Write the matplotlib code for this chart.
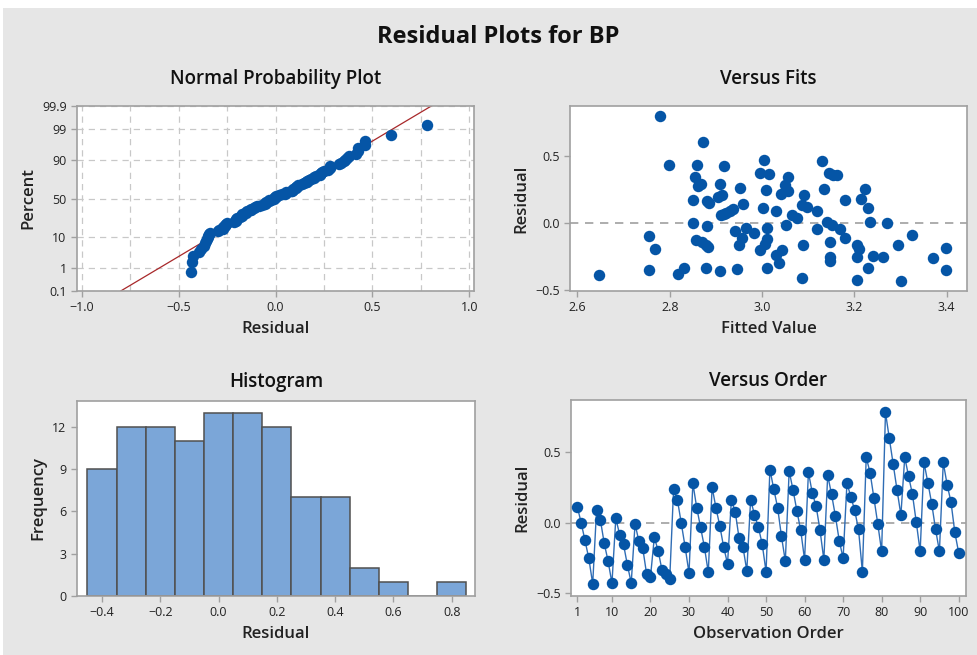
import numpy as np
import matplotlib.pyplot as plt
from matplotlib.patches import Rectangle
from statistics import NormalDist

# Residuals in observation order
resid = [0.114, 0.000, -0.126, -0.254, -0.434, 0.088, 0.019, -0.147, -0.273, -0.429,
         0.031, -0.085, -0.154, -0.299, -0.427, -0.009, -0.133, -0.182, -0.365, -0.384,
         -0.104, -0.199, -0.339, -0.367, -0.396, 0.237, 0.161, -0.005, -0.173, -0.358,
         0.280, 0.107, -0.033, -0.173, -0.352, 0.252, 0.104, -0.024, -0.173, -0.291,
         0.160, 0.078, -0.111, -0.171, -0.341, 0.164, 0.055, -0.031, -0.152, -0.348,
         0.377, 0.239, 0.107, -0.097, -0.273, 0.367, 0.232, 0.085, -0.055, -0.263,
         0.358, 0.211, 0.116, -0.052, -0.263, 0.336, 0.201, 0.047, -0.128, -0.251,
         0.280, 0.185, 0.088, -0.048, -0.348, 0.464, 0.355, 0.175, -0.009, -0.204,
         0.782, 0.597, 0.415, 0.232, 0.055, 0.464, 0.329, 0.201, 0.002, -0.204,
         0.427, 0.284, 0.135, -0.047, -0.204, 0.427, 0.270, 0.147, -0.069, -0.213]

# Fitted values vs residual
fits = [2.647, 2.778, 2.799, 2.755, 2.769, 2.755, 2.817, 2.832, 2.873, 2.860,
        2.854, 2.862, 2.867, 2.851, 2.851, 2.857, 2.870, 2.879, 2.884, 2.879,
        2.881, 2.880, 2.885, 2.908, 2.905, 2.914, 2.917, 2.910, 2.912, 2.917,
        2.923, 2.931, 2.938, 2.952, 2.958, 2.941, 2.957, 2.950, 2.946, 2.966,
        2.983, 2.996, 3.005, 3.015, 3.008, 3.002, 3.010, 3.011, 3.007, 2.996,
        3.010, 3.030, 3.037, 3.044, 3.030, 3.040, 3.050, 3.056, 3.056, 3.052,
        3.065, 3.075, 3.090, 3.087, 3.097, 3.118, 3.088, 3.087, 3.118, 3.129,
        3.135, 3.146, 3.154, 3.163, 3.140, 3.151, 3.147, 3.147, 3.147, 3.169,
        3.180, 3.180, 3.205, 3.210, 3.205, 3.206, 3.222, 3.214, 3.230, 3.233,
        3.230, 3.241, 3.261, 3.270, 3.295, 3.301, 3.324, 3.371, 3.399, 3.399]
fits_resid = [-0.391, 0.795, 0.433, -0.099, -0.191, -0.351, -0.384, -0.332, 0.606, 0.433,
              0.339, 0.272, 0.292, 0.171, 0.000, -0.129, -0.144, -0.161, -0.176, -0.334,
              -0.020, 0.166, 0.146, 0.287, 0.191, 0.210, 0.423, -0.361, 0.057, 0.067,
              0.077, 0.092, 0.101, 0.262, 0.139, -0.059, -0.109, -0.163, -0.342, -0.035,
              -0.077, 0.369, 0.470, 0.364, 0.245, 0.109, -0.040, -0.119, -0.156, -0.205,
              -0.332, -0.238, -0.295, -0.200, 0.092, 0.215, 0.285, 0.339, 0.240, -0.012,
              0.062, 0.035, 0.208, 0.134, 0.121, 0.092, -0.163, -0.411, -0.042, 0.463,
              0.250, 0.369, 0.359, 0.354, 0.007, -0.017, -0.144, -0.257, -0.282, -0.042,
              0.168, -0.109, -0.168, -0.196, -0.252, -0.423, 0.250, 0.178, 0.109, 0.007,
              -0.332, -0.250, -0.252, 0.000, -0.161, -0.433, -0.087, -0.260, -0.188, -0.351]

pct_ticks = [0.1, 1, 10, 50, 90, 99, 99.9]
hist_bins = np.round(np.arange(-0.45, 0.86, 0.1), 2)

BLUE = '#0555A6'
GRID = '#C8C8C8'
SPINE = '#A0A0A0'
MS = 68
plt.rcParams['font.family'] = ['Open Sans', 'DejaVu Sans']
plt.rcParams['font.size'] = 9

fig = plt.figure(figsize=(9.77, 6.55), dpi=100)
fig.patch.set_facecolor('white')
fig.patches.append(Rectangle((3 / 977, 0), 1, 1 - 8 / 655, transform=fig.transFigure,
                             facecolor='#E6E6E6', edgecolor='none', zorder=-10))
fig.text(0.51, 0.944, 'Residual Plots for BP', ha='center', va='center',
         fontsize=17, fontweight='bold', color='#111111')

W, H = 977, 655


def make_axes(l, t, r, b):
    return fig.add_axes([l / W, 1 - b / H, (r - l) / W, (b - t) / H])


def style(ax, title, xlabel, ylabel, pad):
    for s in ax.spines.values():
        s.set_color(SPINE)
        s.set_linewidth(1.2)
    ax.tick_params(colors=SPINE, labelcolor='#222222', length=4, width=1, labelsize=9)
    ax.set_title(title, fontsize=13.5, fontweight='semibold', pad=pad, color='#111111')
    ax.set_xlabel(xlabel, fontsize=12, fontweight='semibold', color='#222222', labelpad=5)
    ax.set_ylabel(ylabel, fontsize=12, fontweight='semibold', color='#222222', labelpad=4)


nd = NormalDist()
r = np.array(resid)

# Normal probability plot
ax1 = make_axes(77, 106, 474, 291)
rs = np.sort(r)
n = len(rs)
p = (np.arange(1, n + 1) - 0.3) / (n + 0.4)
z = np.array([nd.inv_cdf(q) for q in p])
zlo, zhi = nd.inv_cdf(0.001), nd.inv_cdf(0.999)
mu, sd = r.mean(), r.std(ddof=1)
zl = np.array([zlo, zhi])
ax1.plot(mu + sd * zl, zl, color='#A8282A', lw=0.9, zorder=2)
ax1.scatter(rs, z, s=MS, color=BLUE, zorder=3, linewidths=0)
ax1.set_xlim(-1.025, 1.025)
ax1.set_ylim(zlo, zhi)
ax1.set_xticks([-1.0, -0.5, 0.0, 0.5, 1.0])
ax1.set_xticks(np.arange(-1.0, 1.01, 0.25), minor=True)
ax1.set_yticks([nd.inv_cdf(v / 100) for v in pct_ticks])
ax1.set_yticklabels([f'{v:g}' for v in pct_ticks])
ax1.tick_params(which='minor', length=0)
ax1.grid(True, which='both', axis='x', color=GRID, ls=(0, (5, 4)), lw=0.9)
ax1.grid(True, which='major', axis='y', color=GRID, ls=(0, (5, 4)), lw=0.9)
ax1.set_axisbelow(True)
style(ax1, 'Normal Probability Plot', 'Residual', 'Percent', 16)

# Versus fits
ax2 = make_axes(570, 106, 967, 291)
ax2.axhline(0, color='#A0A0A0', ls=(0, (5, 4)), lw=1.2, zorder=1)
ax2.scatter(fits, fits_resid, s=MS, color=BLUE, zorder=3, linewidths=0)
ax2.set_xlim(2.584, 3.444)
ax2.set_ylim(-0.507, 0.871)
ax2.set_xticks([2.6, 2.8, 3.0, 3.2, 3.4])
ax2.set_yticks([-0.5, 0.0, 0.5])
style(ax2, 'Versus Fits', 'Fitted Value', 'Residual', 16)

# Histogram
ax3 = make_axes(77, 401, 475, 596)
ax3.hist(r, bins=hist_bins, color='#7BA6D8', edgecolor='#505050', linewidth=1.1)
ax3.set_xlim(-0.486, 0.88)
ax3.set_ylim(0, 13.83)
ax3.set_xticks([-0.4, -0.2, 0.0, 0.2, 0.4, 0.6, 0.8])
ax3.set_yticks([0, 3, 6, 9, 12])
style(ax3, 'Histogram', 'Residual', 'Frequency', 10)

# Versus order
ax4 = make_axes(571, 400, 966, 596)
obs = np.arange(1, len(resid) + 1)
ax4.axhline(0, color='#A0A0A0', ls=(0, (5, 4)), lw=1.2, zorder=1)
ax4.plot(obs, r, color='#2F6DB5', lw=1.0, zorder=2)
ax4.scatter(obs, r, s=MS, color=BLUE, zorder=3, linewidths=0)
ax4.set_xlim(-0.63, 101.9)
ax4.set_ylim(-0.52, 0.87)
ax4.set_xticks([1, 10, 20, 30, 40, 50, 60, 70, 80, 90, 100])
ax4.set_yticks([-0.5, 0.0, 0.5])
style(ax4, 'Versus Order', 'Observation Order', 'Residual', 10)

fig.savefig('out.png', dpi=100)
